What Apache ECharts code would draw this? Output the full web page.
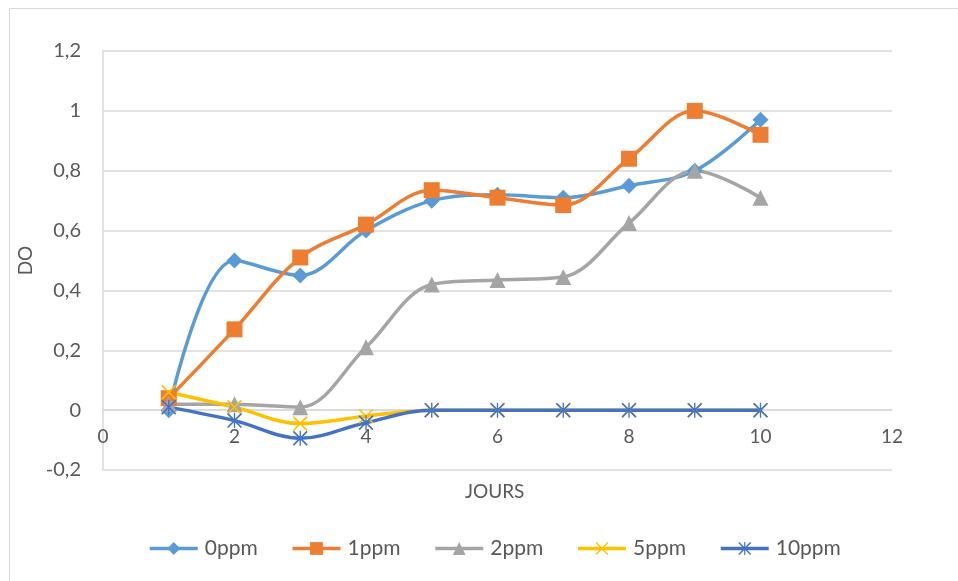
<!DOCTYPE html>
<html>
<head>
<meta charset="utf-8">
<script src="https://cdn.jsdelivr.net/npm/echarts@6/dist/echarts.min.js"></script>
<style>
  html, body { margin: 0; padding: 0; background: #fff; }
  #main { width: 958px; height: 581px; }
</style>
</head>
<body>
<div id="main"></div>
<script>
// jours
var jours = [1, 2, 3, 4, 5, 6, 7, 8, 9, 10];
// DO par concentration
var ppm0  = [0.00, 0.50, 0.45, 0.60, 0.70, 0.72, 0.71, 0.75, 0.80, 0.97];
var ppm1  = [0.04, 0.27, 0.51, 0.62, 0.735, 0.71, 0.685, 0.84, 1.00, 0.92];
var ppm2  = [0.02, 0.02, 0.01, 0.21, 0.42, 0.435, 0.445, 0.625, 0.80, 0.71];
var ppm5  = [0.06, 0.01, -0.045, -0.02, 0.00, 0.00, 0.00, 0.00, 0.00, 0.00];
var ppm10 = [0.01, -0.035, -0.094, -0.042, 0.00, 0.00, 0.00, 0.00, 0.00, 0.00];
var noms = ['0ppm', '1ppm', '2ppm', '5ppm', '10ppm'];

var xPath = 'path://M0,1.6 L1.6,0 L20,18.4 L18.4,20 Z M18.4,0 L20,1.6 L1.6,20 L0,18.4 Z';
var starPath = 'path://M0,1.6 L1.6,0 L20,18.4 L18.4,20 Z M18.4,0 L20,1.6 L1.6,20 L0,18.4 Z M9.1,0 L10.9,0 L10.9,20 L9.1,20 Z';

function pts(arr) {
  return arr.map(function (v, i) { return [jours[i], v]; });
}

var fnt = 'Lato, "Open Sans", sans-serif';
var txt = '#595959';

function serie(name, data, color, symbol, size) {
  return {
    name: name,
    type: 'line',
    data: pts(data),
    smooth: 0.35,
    symbol: symbol,
    symbolSize: size,
    showAllSymbol: true,
    lineStyle: { color: color, width: 3.5 },
    itemStyle: { color: color, borderWidth: 0 },
    z: 3
  };
}

var myChart = echarts.init(document.getElementById('main'));
var option = {
  animation: false,
  backgroundColor: '#fff',
  graphic: [{
    type: 'rect',
    shape: { x: 9.5, y: 8.5, width: 1000, height: 700 },
    style: { fill: 'none', stroke: '#d9d9d9', lineWidth: 1 },
    silent: true
  }, {
    // titre de l'axe x (JOURS)
    type: 'text',
    left: 465,
    top: 482,
    style: { text: 'JOURS', font: '19px ' + fnt, fill: txt },
    silent: true
  }],
  grid: { left: 103, right: 66, top: 51, bottom: 111 },
  legend: {
    top: 533,
    left: 143,
    itemWidth: 48,
    itemHeight: 16,
    itemGap: 33,
    lineStyle: { width: 3.5 },
    textStyle: { fontFamily: fnt, fontSize: 21, color: txt, padding: [0, 0, 0, 2] },
    data: noms
  },
  xAxis: {
    type: 'value',
    min: 0, max: 12, interval: 2,
    offset: -60,   // axe remonte sur y = 0
    axisLine: { onZero: false, lineStyle: { color: '#d9d9d9', width: 1.5 } },
    axisTick: { show: false },
    splitLine: { show: false },
    axisLabel: { fontFamily: fnt, fontSize: 19, color: txt, margin: 17 }
  },
  yAxis: {
    type: 'value',
    min: -0.2, max: 1.2, interval: 0.2,
    name: 'DO',
    nameLocation: 'middle',
    nameGap: 64,
    nameRotate: 90,
    nameTextStyle: { fontFamily: fnt, fontSize: 19, color: txt },
    axisLine: { show: true, lineStyle: { color: '#d9d9d9', width: 1.5 } },
    axisTick: { show: false },
    splitLine: { lineStyle: { color: '#d9d9d9', width: 1.5 } },
    axisLabel: {
      fontFamily: fnt, fontSize: 20, color: txt, margin: 22,
      formatter: function (v) { return String(Math.round(v * 10) / 10).replace('.', ','); }
    }
  },
  series: [
    serie('0ppm', ppm0, '#5B9BD5', 'diamond', 16),
    serie('1ppm', ppm1, '#ED7D31', 'rect', 16),
    serie('2ppm', ppm2, '#A5A5A5', 'triangle', 16),
    serie('5ppm', ppm5, '#FFC000', xPath, 15),
    serie('10ppm', ppm10, '#4472C4', starPath, 15)
  ]
};
myChart.setOption(option);
</script>
</body>
</html>
